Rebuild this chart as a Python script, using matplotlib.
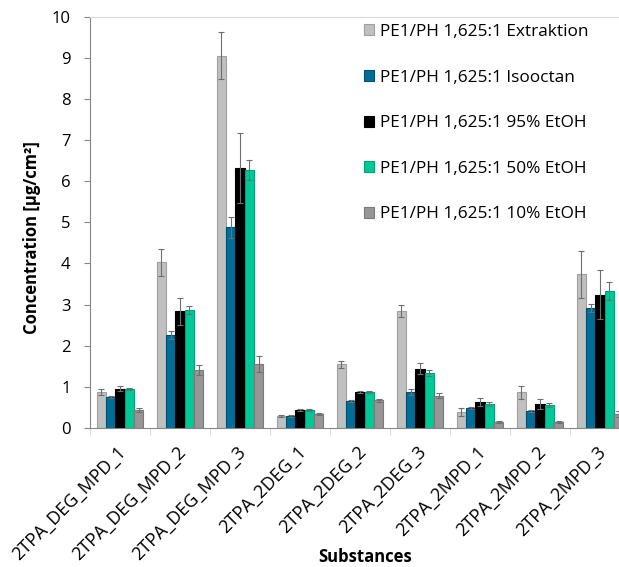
import numpy as np
import matplotlib
matplotlib.use('Agg')
import matplotlib.pyplot as plt
from matplotlib.transforms import ScaledTranslation

plt.rcParams['font.family'] = ['Open Sans', 'DejaVu Sans']

# data
substances = ['2TPA_DEG_MPD_1', '2TPA_DEG_MPD_2', '2TPA_DEG_MPD_3', '2TPA_2DEG_1',
              '2TPA_2DEG_2', '2TPA_2DEG_3', '2TPA_2MPD_1', '2TPA_2MPD_2', '2TPA_2MPD_3']
series_names = ['PE1/PH 1,625:1 Extraktion', 'PE1/PH 1,625:1 Isooctan',
                'PE1/PH 1,625:1 95% EtOH', 'PE1/PH 1,625:1 50% EtOH',
                'PE1/PH 1,625:1 10% EtOH']

extraktion = [0.87, 4.03, 9.05, 0.29, 1.55, 2.84, 0.38, 0.87, 3.74]
extraktion_err = [0.07, 0.33, 0.57, 0.02, 0.08, 0.15, 0.10, 0.16, 0.57]
isooctan = [0.75, 2.26, 4.88, 0.29, 0.66, 0.88, 0.49, 0.41, 2.91]
isooctan_err = [0.02, 0.09, 0.25, 0.02, 0.02, 0.07, 0.02, 0.03, 0.10]
etoh95 = [0.95, 2.84, 6.32, 0.44, 0.88, 1.44, 0.63, 0.58, 3.24]
etoh95_err = [0.06, 0.33, 0.85, 0.02, 0.03, 0.13, 0.09, 0.12, 0.60]
etoh50 = [0.95, 2.87, 6.27, 0.43, 0.88, 1.34, 0.58, 0.56, 3.33]
etoh50_err = [0.02, 0.09, 0.25, 0.02, 0.02, 0.07, 0.05, 0.04, 0.21]
etoh10 = [0.44, 1.41, 1.55, 0.34, 0.67, 0.78, 0.15, 0.15, 0.34]
etoh10_err = [0.04, 0.11, 0.19, 0.02, 0.03, 0.06, 0.02, 0.02, 0.07]

values = [extraktion, isooctan, etoh95, etoh50, etoh10]
errors = [extraktion_err, isooctan_err, etoh95_err, etoh50_err, etoh10_err]
colors = ['#C0C0C0', '#006E96', '#000000', '#00C896', '#969696']
edges = ['#A0A0A0', '#004F6E', '#000000', '#00A078', '#7A7A7A']

fig = plt.figure(figsize=(6.19, 5.67), dpi=100)
# plot area runs past the right edge, like the cropped original
ax = fig.add_axes([90/619, 1 - 428/567, 540/619, (428 - 16.7)/567])

x = np.arange(len(substances)) + 0.5
width = 0.156
for i in range(5):
    pos = x - 2 * width + i * width
    ax.bar(pos, values[i], width, color=colors[i], edgecolor=edges[i],
           linewidth=0.8, label=series_names[i], zorder=2)
    ax.errorbar(pos, values[i], yerr=errors[i], fmt='none', ecolor='#6E6E6E',
                elinewidth=0.8, capsize=2, capthick=0.8, zorder=3)

ax.set_xlim(0, len(substances))
ax.set_ylim(0, 10)
ax.set_yticks(range(0, 11))
ax.tick_params(axis='y', labelsize=12, length=4, color='#868686', pad=10)

ax.set_xticks(np.arange(len(substances) + 1))
ax.set_xticklabels([])
ax.tick_params(axis='x', which='major', length=5, color='#D9D9D9')
ax.set_xticks(x, minor=True)
ax.set_xticklabels(substances, minor=True, rotation=45, ha='right',
                   rotation_mode='anchor', fontsize=13)
ax.tick_params(axis='x', which='minor', length=0, pad=8)
# nudge the slanted labels to where the original has them
shift = ScaledTranslation(-0.03, -0.035, fig.dpi_scale_trans)
for lab in ax.get_xticklabels(minor=True):
    lab.set_transform(lab.get_transform() + shift)

ax.spines['left'].set_color('#868686')
ax.spines['bottom'].set_color('#868686')
ax.spines['top'].set_color('#D9D9D9')
ax.spines['right'].set_visible(False)

ax.set_ylabel('Concentration [µg/cm²]', fontsize=12, fontweight='bold')
ax.yaxis.set_label_coords(-0.0907, 0.463)
fig.text(365/619, 1 - 557/567, 'Substances', fontsize=12, fontweight='bold',
         ha='center', va='center')

ax.legend(loc='upper left', bbox_to_anchor=(364/619, 1 - 24/567),
          bbox_transform=fig.transFigure, frameon=False, fontsize=12.4,
          handlelength=0.6, handleheight=0.6, handletextpad=0.3,
          labelspacing=1.72, borderpad=0, borderaxespad=0)

plt.savefig('out.png', dpi=100)
